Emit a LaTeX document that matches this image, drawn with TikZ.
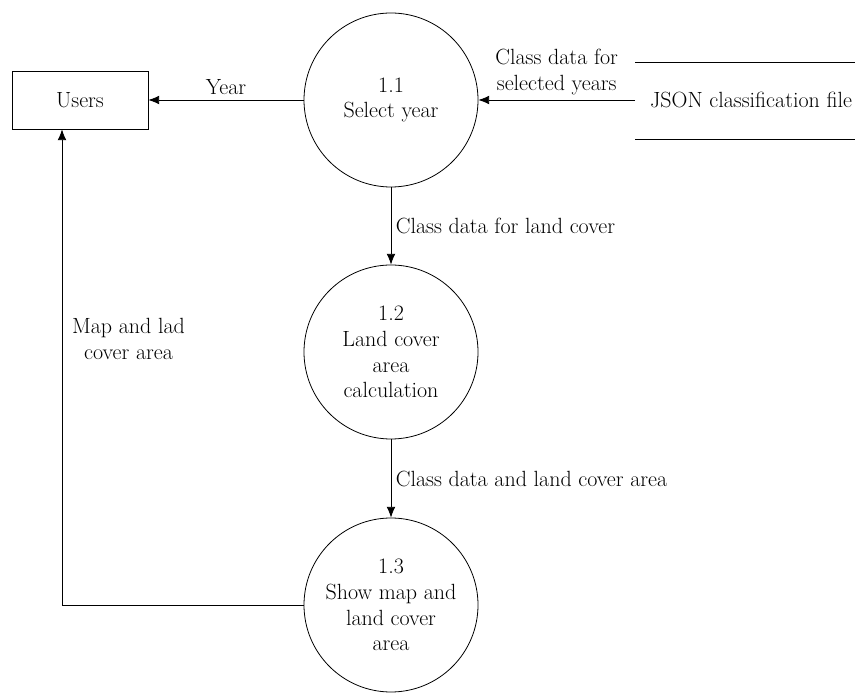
\documentclass[tikz,border=0pt]{standalone}
\usepackage{tikz}
\usetikzlibrary{arrows.meta,positioning,calc}
\newcommand{\dfdfont}{\fontsize{16.5}{19.3}\selectfont}

\begin{document}
\begin{tikzpicture}[x=0.75pt,y=0.75pt,line width=0.6pt,
		proc/.style={draw,circle,minimum size=130.5pt,inner sep=0pt,align=center,font=\dfdfont},
		ent/.style={draw,rectangle,minimum width=102pt,minimum height=43.5pt,font=\dfdfont},
		flow/.style={-{Latex[length=8pt,width=6.5pt]}},
		lbl/.style={font=\dfdfont,align=center}]
		\useasboundingbox (0,0) rectangle (857,693);
		
		% external entity and data store
		\node[ent] (users) at (80,593) {Users};
		\node[lbl] (json) at (751,593) {JSON classification file};
		\foreach \y in {554,631}
		\draw (635,\y) -- (855,\y);
		\coordinate (jsonin) at (635,593);
		
		% processes
		\node[proc] (p11) at (391,593) {1.1\\Select year};
		\node[proc] (p12) at (391,341) {1.2\\Land cover\\area\\calculation};
		\node[proc] (p13) at (391,88) {1.3\\Show map and\\land cover\\area};
		
		% flows
		\draw[flow] (p11.west) -- node[lbl,above] {Year} (users.east);
		\draw[flow] (jsonin) -- node[lbl,above] {Class data for\\selected years} (p11.east);
		\draw[flow] (p11.south) -- node[lbl,right] {Class data for land cover} (p12.north);
		\draw[flow] (p12.south) -- node[lbl,right] {Class data and land cover area} (p13.north);
		\draw[flow] (p13.west) -| node[lbl,right,pos=0.78,xshift=4pt] {Map and lad\\cover area} ([xshift=-13.5pt]users.south);
	\end{tikzpicture}
\end{document}
